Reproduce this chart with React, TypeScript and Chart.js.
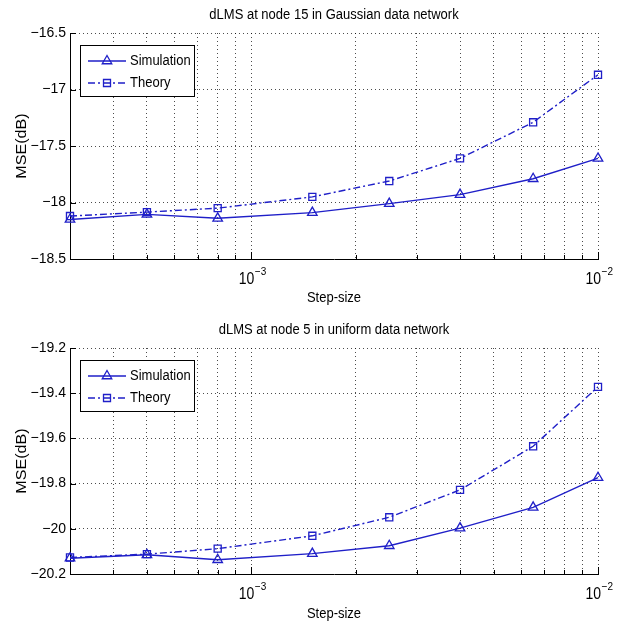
import React, { useEffect, useRef } from 'react';
import { Chart, registerables } from 'chart.js';

Chart.register(...registerables);

// ---------- data ----------
const STEP_SIZES = [3e-4, 5e-4, 8e-4, 1.5e-3, 2.5e-3, 4e-3, 6.5e-3, 1e-2];

const GAUSS_SIM = [-18.15, -18.105, -18.14, -18.09, -18.01, -17.93, -17.79, -17.61];
const GAUSS_THEORY = [-18.12, -18.085, -18.05, -17.95, -17.81, -17.61, -17.29, -16.87];

const UNIF_SIM = [-20.13, -20.115, -20.137, -20.11, -20.075, -19.997, -19.905, -19.774];
const UNIF_THEORY = [-20.127, -20.112, -20.088, -20.031, -19.949, -19.828, -19.635, -19.372];

const X_MIN = 3e-4;
const X_MAX = 1e-2;
const X_GRID = [3e-4, 4e-4, 5e-4, 6e-4, 7e-4, 8e-4, 9e-4, 1e-3, 2e-3, 3e-3, 4e-3, 5e-3, 6e-3, 7e-3, 8e-3, 9e-3, 1e-2];
const X_MAJOR = [1e-3, 1e-2];
const X_MAJOR_BASE = '10';
const X_MAJOR_EXP = ['\u22123', '\u22122'];

const GAUSS_Y_TICKS = [-18.5, -18, -17.5, -17, -16.5];
const UNIF_Y_TICKS = [-20.2, -20, -19.8, -19.6, -19.4, -19.2];

const TITLES = ['dLMS at node 15 in Gaussian data network', 'dLMS at node 5 in uniform data network'];
const SERIES_LABELS = ['Simulation', 'Theory'];
const X_TITLE = 'Step-size';
const Y_TITLE = 'MSE(dB)';

// ---------- style ----------
const BLUE = '#1f1fc8';
const FONT = "'Liberation Sans', Arial, Helvetica, sans-serif";
const W = 621;
const H = 312;
const PLOT_LEFT = 70;
const PLOT_RIGHT = 598;
const STRETCH = 1.15;

function fmtY(v: number): string {
  const r = Math.round(v * 10) / 10;
  const s = String(Math.abs(r));
  return (r < 0 ? '\u2212' : '') + s;
}

function majorIndex(v: number) {
  return X_MAJOR.findIndex((m) => Math.abs(v - m) / m < 1e-6);
}

function stretchedText(ctx: CanvasRenderingContext2D, text: string, x: number, y: number) {
  ctx.save();
  ctx.translate(x, y);
  ctx.scale(1, STRETCH);
  ctx.fillText(text, 0, 0);
  ctx.restore();
}

type PanelProps = {
  top: number;
  title: string;
  sim: number[];
  theory: number[];
  yTicks: number[];
  plotTop: number;
  plotBottom: number;
  titleY: number;
  xLabelY: number;
};

function Panel(props: PanelProps) {
  const ref = useRef<HTMLCanvasElement>(null);
  useEffect(() => {
    const { title, sim, theory, yTicks, plotTop, plotBottom, titleY, xLabelY } = props;
    const decor = {
      id: 'decor',
      afterDatasetsDraw(chart: any) {
        const ctx: CanvasRenderingContext2D = chart.ctx;
        const a = chart.chartArea;
        const xs = chart.scales.x;
        const ys = chart.scales.y;
        ctx.save();
        // inward tick marks
        ctx.strokeStyle = '#000';
        ctx.lineWidth = 1;
        ctx.setLineDash([]);
        ctx.beginPath();
        X_GRID.forEach((v) => {
          const px = Math.round(xs.getPixelForValue(v)) + 0.5;
          const len = majorIndex(v) >= 0 ? 7 : 4;
          ctx.moveTo(px, a.bottom);
          ctx.lineTo(px, a.bottom - len);
        });
        yTicks.forEach((v) => {
          const py = Math.round(ys.getPixelForValue(v)) + 0.5;
          ctx.moveTo(a.left, py);
          ctx.lineTo(a.left + 6, py);
        });
        ctx.stroke();

        // x major tick labels with superscript exponent
        ctx.fillStyle = '#000';
        ctx.textBaseline = 'alphabetic';
        ctx.textAlign = 'left';
        X_MAJOR.forEach((m, i) => {
          const px = xs.getPixelForValue(m);
          ctx.font = `14px ${FONT}`;
          const bw = ctx.measureText(X_MAJOR_BASE).width;
          ctx.font = `10px ${FONT}`;
          const ew = ctx.measureText(X_MAJOR_EXP[i]).width;
          const x0 = px - (bw + ew) / 2 + 1;
          ctx.font = `14px ${FONT}`;
          stretchedText(ctx, X_MAJOR_BASE, x0, a.bottom + 25);
          ctx.font = `10px ${FONT}`;
          stretchedText(ctx, X_MAJOR_EXP[i], x0 + bw + 0.5, a.bottom + 16);
        });

        // texts
        ctx.font = `13px ${FONT}`;
        ctx.textAlign = 'center';
        ctx.textBaseline = 'middle';
        const cx = (a.left + a.right) / 2;
        stretchedText(ctx, title, cx, titleY);
        stretchedText(ctx, X_TITLE, cx, xLabelY);
        ctx.font = `14px ${FONT}`;
        ctx.save();
        ctx.translate(22, (a.top + a.bottom) / 2);
        ctx.rotate(-Math.PI / 2);
        ctx.scale(STRETCH, 1);
        ctx.fillText(Y_TITLE, 0, 0);
        ctx.restore();

        // legend
        const lx = 80;
        const ly = a.top + 12;
        const lw = 114;
        const lh = 51;
        ctx.fillStyle = '#fff';
        ctx.fillRect(lx, ly, lw, lh);
        ctx.strokeStyle = '#000';
        ctx.lineWidth = 1;
        ctx.strokeRect(lx + 0.5, ly + 0.5, lw, lh);
        const dsets = chart.data.datasets;
        dsets.forEach((ds: any, i: number) => {
          const ry = ly + 16 + i * 22;
          ctx.strokeStyle = BLUE;
          ctx.lineWidth = 1.4;
          ctx.setLineDash(ds.borderDash || []);
          ctx.beginPath();
          ctx.moveTo(lx + 8, ry);
          ctx.lineTo(lx + 46, ry);
          ctx.stroke();
          ctx.setLineDash([]);
          ctx.lineWidth = 1.3;
          ctx.beginPath();
          const mx = lx + 27;
          if (ds.pointStyle === 'triangle') {
            const r = 5.5;
            ctx.moveTo(mx, ry - r);
            ctx.lineTo(mx + r * 0.866, ry + r * 0.5);
            ctx.lineTo(mx - r * 0.866, ry + r * 0.5);
            ctx.closePath();
          } else {
            const s = 3.5;
            ctx.rect(mx - s, ry - s, 2 * s, 2 * s);
          }
          ctx.stroke();
          ctx.fillStyle = '#000';
          ctx.font = `13px ${FONT}`;
          ctx.textAlign = 'left';
          ctx.textBaseline = 'middle';
          stretchedText(ctx, ds.label, lx + 50, ry);
        });
        ctx.restore();
      },
    };

    const gridOpts = { color: 'rgba(0,0,0,0.7)', lineWidth: 1, drawTicks: false };
    const borderOpts = { display: true, color: '#000', width: 1, dash: [1, 3] };

    const chart = new Chart(ref.current as HTMLCanvasElement, {
      type: 'line',
      data: {
        datasets: [
          {
            label: SERIES_LABELS[0],
            data: STEP_SIZES.map((x, i) => ({ x, y: sim[i] })),
            borderColor: BLUE,
            borderWidth: 1.4,
            pointStyle: 'triangle',
            pointRadius: 5.5,
            pointBorderColor: BLUE,
            pointBackgroundColor: 'rgba(0,0,0,0)',
            pointBorderWidth: 1.3,
            tension: 0,
            fill: false,
            clip: false,
          },
          {
            label: SERIES_LABELS[1],
            data: STEP_SIZES.map((x, i) => ({ x, y: theory[i] })),
            borderColor: BLUE,
            borderWidth: 1.4,
            borderDash: [7, 3, 2, 3],
            pointStyle: 'rect',
            pointRadius: 5,
            pointBorderColor: BLUE,
            pointBackgroundColor: 'rgba(0,0,0,0)',
            pointBorderWidth: 1.3,
            tension: 0,
            fill: false,
            clip: false,
          },
        ],
      },
      options: {
        animation: false,
        responsive: false,
        devicePixelRatio: 1,
        layout: { padding: { left: 0, right: W - PLOT_RIGHT, top: plotTop, bottom: 0 } },
        plugins: {
          legend: { display: false },
          tooltip: { enabled: false },
          title: { display: false },
        },
        scales: {
          x: {
            type: 'logarithmic',
            min: X_MIN,
            max: X_MAX,
            afterBuildTicks: (s: any) => {
              s.ticks = X_GRID.map((v) => ({ value: v, major: majorIndex(v) >= 0 }));
            },
            afterFit: (s: any) => {
              s.height = H - plotBottom;
            },
            ticks: {
              autoSkip: false,
              maxRotation: 0,
              minRotation: 0,
              padding: 12,
              color: '#000',
              font: { family: FONT, size: 13 },
              callback: () => '',
            },
            grid: gridOpts,
            border: borderOpts,
          },
          y: {
            type: 'linear',
            min: yTicks[0],
            max: yTicks[yTicks.length - 1],
            afterBuildTicks: (s: any) => {
              s.ticks = yTicks.map((v) => ({ value: v }));
            },
            afterFit: (s: any) => {
              s.width = PLOT_LEFT;
            },
            ticks: {
              padding: 4,
              color: '#000',
              font: { family: FONT, size: 14 },
              callback: (v: any) => fmtY(Number(v)),
            },
            grid: gridOpts,
            border: borderOpts,
          },
        },
      } as any,
      plugins: [decor],
    });
    return () => chart.destroy();
  }, []);

  return (
    <canvas
      ref={ref}
      width={W}
      height={H}
      style={{ position: 'absolute', left: 0, top: props.top, width: W, height: H, display: 'block' }}
    />
  );
}

export default function App() {
  return (
    <div style={{ position: 'absolute', left: 0, top: 0, width: W, height: 624, background: '#fff' }}>
      <Panel
        top={0}
        title={TITLES[0]}
        sim={GAUSS_SIM}
        theory={GAUSS_THEORY}
        yTicks={GAUSS_Y_TICKS}
        plotTop={33}
        plotBottom={259}
        titleY={15}
        xLabelY={298}
      />
      <Panel
        top={312}
        title={TITLES[1]}
        sim={UNIF_SIM}
        theory={UNIF_THEORY}
        yTicks={UNIF_Y_TICKS}
        plotTop={36}
        plotBottom={262}
        titleY={18}
        xLabelY={302}
      />
    </div>
  );
}
